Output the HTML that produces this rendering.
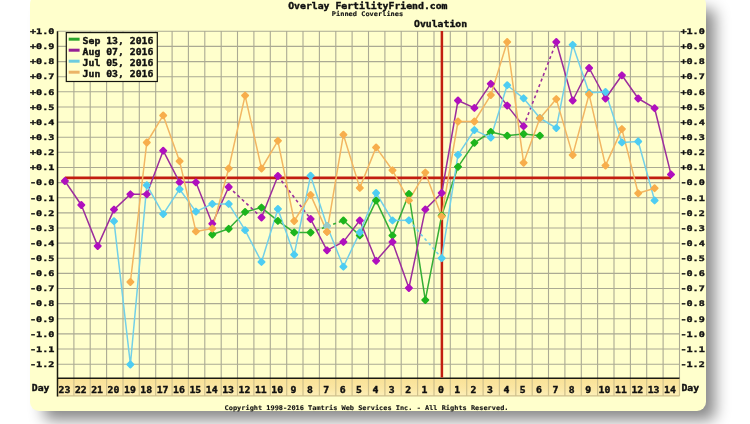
<!DOCTYPE html><html><head><meta charset="utf-8"><style>
html,body{margin:0;padding:0;background:#fff;width:750px;height:424px;overflow:hidden;}
#panel{position:absolute;left:30px;top:-5px;width:676px;height:416px;background:#FFFFCC;border-radius:9px;box-shadow:11.7px 11.2px 15px -3.2px #888;}
svg{position:absolute;left:0;top:0;}
text{font-family:"DejaVu Sans Mono","Liberation Mono",monospace;font-weight:bold;fill:#111;}
</style></head><body><div id="panel"></div>
<svg width="750" height="424" viewBox="0 0 750 424">
<defs><linearGradient id="dg" x1="0" y1="0" x2="0" y2="1"><stop offset="0" stop-color="#F9E196"/><stop offset="0.6" stop-color="#FBE7A4"/><stop offset="1" stop-color="#FDEFB8"/></linearGradient></defs>
<rect x="57.5" y="378.3" width="16.4" height="17.5" fill="url(#dg)"/>
<rect x="73.9" y="378.3" width="16.4" height="17.5" fill="url(#dg)"/>
<rect x="90.2" y="378.3" width="16.4" height="17.5" fill="url(#dg)"/>
<rect x="106.6" y="378.3" width="16.4" height="17.5" fill="url(#dg)"/>
<rect x="123" y="378.3" width="16.4" height="17.5" fill="url(#dg)"/>
<rect x="139.3" y="378.3" width="16.4" height="17.5" fill="url(#dg)"/>
<rect x="155.7" y="378.3" width="16.4" height="17.5" fill="url(#dg)"/>
<rect x="172.1" y="378.3" width="16.4" height="17.5" fill="url(#dg)"/>
<rect x="188.4" y="378.3" width="16.4" height="17.5" fill="url(#dg)"/>
<rect x="204.8" y="378.3" width="16.4" height="17.5" fill="url(#dg)"/>
<rect x="221.2" y="378.3" width="16.4" height="17.5" fill="url(#dg)"/>
<rect x="237.5" y="378.3" width="16.4" height="17.5" fill="url(#dg)"/>
<rect x="253.9" y="378.3" width="16.4" height="17.5" fill="url(#dg)"/>
<rect x="270.3" y="378.3" width="16.4" height="17.5" fill="url(#dg)"/>
<rect x="286.7" y="378.3" width="16.4" height="17.5" fill="url(#dg)"/>
<rect x="303" y="378.3" width="16.4" height="17.5" fill="url(#dg)"/>
<rect x="319.4" y="378.3" width="16.4" height="17.5" fill="url(#dg)"/>
<rect x="335.8" y="378.3" width="16.4" height="17.5" fill="url(#dg)"/>
<rect x="352.1" y="378.3" width="16.4" height="17.5" fill="url(#dg)"/>
<rect x="368.5" y="378.3" width="16.4" height="17.5" fill="url(#dg)"/>
<rect x="384.9" y="378.3" width="16.4" height="17.5" fill="url(#dg)"/>
<rect x="401.2" y="378.3" width="16.4" height="17.5" fill="url(#dg)"/>
<rect x="417.6" y="378.3" width="16.4" height="17.5" fill="url(#dg)"/>
<rect x="434" y="378.3" width="16.4" height="17.5" fill="url(#dg)"/>
<rect x="450.3" y="378.3" width="16.4" height="17.5" fill="url(#dg)"/>
<rect x="466.7" y="378.3" width="16.4" height="17.5" fill="url(#dg)"/>
<rect x="483.1" y="378.3" width="16.4" height="17.5" fill="url(#dg)"/>
<rect x="499.4" y="378.3" width="16.4" height="17.5" fill="url(#dg)"/>
<rect x="515.8" y="378.3" width="16.4" height="17.5" fill="url(#dg)"/>
<rect x="532.2" y="378.3" width="16.4" height="17.5" fill="url(#dg)"/>
<rect x="548.5" y="378.3" width="16.4" height="17.5" fill="url(#dg)"/>
<rect x="564.9" y="378.3" width="16.4" height="17.5" fill="url(#dg)"/>
<rect x="581.3" y="378.3" width="16.4" height="17.5" fill="url(#dg)"/>
<rect x="597.6" y="378.3" width="16.4" height="17.5" fill="url(#dg)"/>
<rect x="614" y="378.3" width="16.4" height="17.5" fill="url(#dg)"/>
<rect x="630.4" y="378.3" width="16.4" height="17.5" fill="url(#dg)"/>
<rect x="646.7" y="378.3" width="16.4" height="17.5" fill="url(#dg)"/>
<rect x="663.1" y="378.3" width="16.4" height="17.5" fill="url(#dg)"/>
<path d="M73.9 31.3V378.3M90.2 31.3V378.3M106.6 31.3V378.3M123 31.3V378.3M139.3 31.3V378.3M155.7 31.3V378.3M172.1 31.3V378.3M188.4 31.3V378.3M204.8 31.3V378.3M221.2 31.3V378.3M237.5 31.3V378.3M253.9 31.3V378.3M270.3 31.3V378.3M286.7 31.3V378.3M303 31.3V378.3M319.4 31.3V378.3M335.8 31.3V378.3M352.1 31.3V378.3M368.5 31.3V378.3M384.9 31.3V378.3M401.2 31.3V378.3M417.6 31.3V378.3M434 31.3V378.3M450.3 31.3V378.3M466.7 31.3V378.3M483.1 31.3V378.3M499.4 31.3V378.3M515.8 31.3V378.3M532.2 31.3V378.3M548.5 31.3V378.3M564.9 31.3V378.3M581.3 31.3V378.3M597.6 31.3V378.3M614 31.3V378.3M630.4 31.3V378.3M646.7 31.3V378.3M663.1 31.3V378.3M679.5 31.3V378.3M57.5 31.3H679.5M57.5 46.4H679.5M57.5 61.6H679.5M57.5 76.7H679.5M57.5 91.8H679.5M57.5 107H679.5M57.5 122.1H679.5M57.5 137.2H679.5M57.5 152.3H679.5M57.5 167.5H679.5M57.5 182.6H679.5M57.5 197.7H679.5M57.5 212.9H679.5M57.5 228H679.5M57.5 243.1H679.5M57.5 258.2H679.5M57.5 273.4H679.5M57.5 288.5H679.5M57.5 303.6H679.5M57.5 318.8H679.5M57.5 333.9H679.5M57.5 349H679.5M57.5 364.2H679.5" stroke="#ABAA93" stroke-width="1.1" fill="none"/>
<path d="M73.9 378.3V395.8M90.2 378.3V395.8M106.6 378.3V395.8M123 378.3V395.8M139.3 378.3V395.8M155.7 378.3V395.8M172.1 378.3V395.8M188.4 378.3V395.8M204.8 378.3V395.8M221.2 378.3V395.8M237.5 378.3V395.8M253.9 378.3V395.8M270.3 378.3V395.8M286.7 378.3V395.8M303 378.3V395.8M319.4 378.3V395.8M335.8 378.3V395.8M352.1 378.3V395.8M368.5 378.3V395.8M384.9 378.3V395.8M401.2 378.3V395.8M417.6 378.3V395.8M434 378.3V395.8M450.3 378.3V395.8M466.7 378.3V395.8M483.1 378.3V395.8M499.4 378.3V395.8M515.8 378.3V395.8M532.2 378.3V395.8M548.5 378.3V395.8M564.9 378.3V395.8M581.3 378.3V395.8M597.6 378.3V395.8M614 378.3V395.8M630.4 378.3V395.8M646.7 378.3V395.8M663.1 378.3V395.8M679.5 378.3V395.8M57.5 395.8H679.5" stroke="#CFC08C" stroke-width="1.2" fill="none"/>
<path d="M57.5 31.3V396.5 M57.5 378.3H679.5" stroke="#1A1A10" stroke-width="1.5" fill="none"/>
<path d="M441.9 31V377.5" stroke="#C21E10" stroke-width="2.5"/>
<path d="M64.9 177.9H671" stroke="#C21E10" stroke-width="2.6"/>
<path d="M212.3 234.5L228.7 228.8M228.7 228.8L245.1 211.9M245.1 211.9L261.5 207.6M261.5 207.6L277.9 220.9M277.9 220.9L294.2 232.4M294.2 232.4L310.6 232.5M343.4 220.5L359.8 235.4M359.8 235.4L376.1 200.6M376.1 200.6L392.5 235.6M392.5 235.6L408.9 194M408.9 194L425.3 300.1M425.3 300.1L441.7 215.5M441.7 215.5L458 166.8M458 166.8L474.4 142.8M474.4 142.8L490.8 132M490.8 132L507.2 135.7M507.2 135.7L523.6 134M523.6 134L539.9 135.7" stroke="#35AE35" stroke-width="1.5" fill="none" stroke-linejoin="round"/>
<path d="M310.6 232.5L343.4 220.5" stroke="#35AE35" stroke-width="1.6" fill="none" stroke-dasharray="3 3"/>
<path d="M64.9 181L81.3 205M81.3 205L97.7 246.1M97.7 246.1L114 209.6M114 209.6L130.4 194.3M130.4 194.3L146.8 194.3M146.8 194.3L163.2 150.7M163.2 150.7L179.6 182.3M179.6 182.3L195.9 182.3M195.9 182.3L212.3 223.7M212.3 223.7L228.7 187M261.5 217.5L277.9 176M310.6 219L327 250.3M327 250.3L343.4 241.9M343.4 241.9L359.8 220.4M359.8 220.4L376.1 260.8M376.1 260.8L392.5 241.9M392.5 241.9L408.9 288M408.9 288L425.3 209.4M425.3 209.4L441.7 193M441.7 193L458 100.5M458 100.5L474.4 107.9M474.4 107.9L490.8 83.8M490.8 83.8L507.2 105.6M507.2 105.6L523.6 126.2M556.3 42L572.7 100.5M572.7 100.5L589.1 68M589.1 68L605.5 98.5M605.5 98.5L621.9 75.3M621.9 75.3L638.2 98.5M638.2 98.5L654.6 108.2M654.6 108.2L671 174.4" stroke="#9C2E9C" stroke-width="1.5" fill="none" stroke-linejoin="round"/>
<path d="M228.7 187L261.5 217.5M277.9 176L310.6 219M523.6 126.2L556.3 42" stroke="#9C2E9C" stroke-width="1.6" fill="none" stroke-dasharray="3 3"/>
<path d="M114 221.2L130.4 364.5M130.4 364.5L146.8 185.2M146.8 185.2L163.2 214.1M163.2 214.1L179.6 189.2M179.6 189.2L195.9 211.6M195.9 211.6L212.3 203.9M212.3 203.9L228.7 203.9M228.7 203.9L245.1 230.2M245.1 230.2L261.5 261.9M261.5 261.9L277.9 209M277.9 209L294.2 254.7M294.2 254.7L310.6 175.7M310.6 175.7L327 226M327 226L343.4 266.7M343.4 266.7L359.8 232.5M359.8 232.5L376.1 193M376.1 193L392.5 220.4M392.5 220.4L408.9 220.3M441.7 258.2L458 154.8M458 154.8L474.4 130.1M474.4 130.1L490.8 137.6M490.8 137.6L507.2 85.2M507.2 85.2L523.6 98.3M523.6 98.3L539.9 118M539.9 118L556.3 128.1M556.3 128.1L572.7 44.8M572.7 44.8L589.1 92.7M589.1 92.7L605.5 92M605.5 92L621.9 142.4M621.9 142.4L638.2 141.5M638.2 141.5L654.6 200.4" stroke="#72D0E8" stroke-width="1.5" fill="none" stroke-linejoin="round"/>
<path d="M408.9 220.3L441.7 258.2" stroke="#72D0E8" stroke-width="1.6" fill="none" stroke-dasharray="3 3"/>
<path d="M130.4 282L146.8 142.5M146.8 142.5L163.2 115.4M163.2 115.4L179.6 161.2M179.6 161.2L195.9 231.4M195.9 231.4L212.3 228.5M212.3 228.5L228.7 168.5M228.7 168.5L245.1 95.6M245.1 95.6L261.5 168.5M261.5 168.5L277.9 140.8M277.9 140.8L294.2 221M294.2 221L310.6 194.9M310.6 194.9L327 231.8M327 231.8L343.4 134.7M343.4 134.7L359.8 187.9M359.8 187.9L376.1 147.4M376.1 147.4L392.5 170.3M392.5 170.3L408.9 200.4M408.9 200.4L425.3 172.6M425.3 172.6L441.7 216.4M441.7 216.4L458 121.5M458 121.5L474.4 121.5M474.4 121.5L490.8 95.1M490.8 95.1L507.2 42M507.2 42L523.6 162.8M523.6 162.8L539.9 118.2M539.9 118.2L556.3 99.1M556.3 99.1L572.7 155.1M572.7 155.1L589.1 94.3M589.1 94.3L605.5 165.6M605.5 165.6L621.9 129.1M621.9 129.1L638.2 193.3M638.2 193.3L654.6 188.2" stroke="#F2B662" stroke-width="1.5" fill="none" stroke-linejoin="round"/>
<path d="M212.3 231.6L215.2 234.5L212.3 237.4L209.4 234.5ZM228.7 225.9L231.6 228.8L228.7 231.7L225.8 228.8ZM245.1 209L248 211.9L245.1 214.8L242.2 211.9ZM261.5 204.7L264.4 207.6L261.5 210.5L258.6 207.6ZM277.9 218L280.8 220.9L277.9 223.8L275 220.9ZM294.2 229.5L297.1 232.4L294.2 235.3L291.3 232.4ZM310.6 229.6L313.5 232.5L310.6 235.4L307.7 232.5ZM343.4 217.6L346.3 220.5L343.4 223.4L340.5 220.5ZM359.8 232.5L362.7 235.4L359.8 238.3L356.9 235.4ZM376.1 197.7L379 200.6L376.1 203.5L373.2 200.6ZM392.5 232.7L395.4 235.6L392.5 238.5L389.6 235.6ZM408.9 191.1L411.8 194L408.9 196.9L406 194ZM425.3 297.2L428.2 300.1L425.3 303L422.4 300.1ZM441.7 212.6L444.6 215.5L441.7 218.4L438.8 215.5ZM458 163.9L460.9 166.8L458 169.7L455.1 166.8ZM474.4 139.9L477.3 142.8L474.4 145.7L471.5 142.8ZM490.8 129.1L493.7 132L490.8 134.9L487.9 132ZM507.2 132.8L510.1 135.7L507.2 138.6L504.3 135.7ZM523.6 131.1L526.5 134L523.6 136.9L520.7 134ZM539.9 132.8L542.8 135.7L539.9 138.6L537 135.7Z" fill="#1DB51D" stroke="#1DB51D" stroke-width="2.1" stroke-linejoin="round"/>
<path d="M64.9 178.1L67.8 181L64.9 183.9L62 181ZM81.3 202.1L84.2 205L81.3 207.9L78.4 205ZM97.7 243.2L100.6 246.1L97.7 249L94.8 246.1ZM114 206.7L116.9 209.6L114 212.5L111.1 209.6ZM130.4 191.4L133.3 194.3L130.4 197.2L127.5 194.3ZM146.8 191.4L149.7 194.3L146.8 197.2L143.9 194.3ZM163.2 147.8L166.1 150.7L163.2 153.6L160.3 150.7ZM179.6 179.4L182.5 182.3L179.6 185.2L176.7 182.3ZM195.9 179.4L198.8 182.3L195.9 185.2L193 182.3ZM212.3 220.8L215.2 223.7L212.3 226.6L209.4 223.7ZM228.7 184.1L231.6 187L228.7 189.9L225.8 187ZM261.5 214.6L264.4 217.5L261.5 220.4L258.6 217.5ZM277.9 173.1L280.8 176L277.9 178.9L275 176ZM310.6 216.1L313.5 219L310.6 221.9L307.7 219ZM327 247.4L329.9 250.3L327 253.2L324.1 250.3ZM343.4 239L346.3 241.9L343.4 244.8L340.5 241.9ZM359.8 217.5L362.7 220.4L359.8 223.3L356.9 220.4ZM376.1 257.9L379 260.8L376.1 263.7L373.2 260.8ZM392.5 239L395.4 241.9L392.5 244.8L389.6 241.9ZM408.9 285.1L411.8 288L408.9 290.9L406 288ZM425.3 206.5L428.2 209.4L425.3 212.3L422.4 209.4ZM441.7 190.1L444.6 193L441.7 195.9L438.8 193ZM458 97.6L460.9 100.5L458 103.4L455.1 100.5ZM474.4 105L477.3 107.9L474.4 110.8L471.5 107.9ZM490.8 80.9L493.7 83.8L490.8 86.7L487.9 83.8ZM507.2 102.7L510.1 105.6L507.2 108.5L504.3 105.6ZM523.6 123.3L526.5 126.2L523.6 129.1L520.7 126.2ZM556.3 39.1L559.2 42L556.3 44.9L553.4 42ZM572.7 97.6L575.6 100.5L572.7 103.4L569.8 100.5ZM589.1 65.1L592 68L589.1 70.9L586.2 68ZM605.5 95.6L608.4 98.5L605.5 101.4L602.6 98.5ZM621.9 72.4L624.8 75.3L621.9 78.2L619 75.3ZM638.2 95.6L641.1 98.5L638.2 101.4L635.3 98.5ZM654.6 105.3L657.5 108.2L654.6 111.1L651.7 108.2ZM671 171.5L673.9 174.4L671 177.3L668.1 174.4Z" fill="#B010BE" stroke="#B010BE" stroke-width="2.1" stroke-linejoin="round"/>
<path d="M114 218.3L116.9 221.2L114 224.1L111.1 221.2ZM130.4 361.6L133.3 364.5L130.4 367.4L127.5 364.5ZM146.8 182.3L149.7 185.2L146.8 188.1L143.9 185.2ZM163.2 211.2L166.1 214.1L163.2 217L160.3 214.1ZM179.6 186.3L182.5 189.2L179.6 192.1L176.7 189.2ZM195.9 208.7L198.8 211.6L195.9 214.5L193 211.6ZM212.3 201L215.2 203.9L212.3 206.8L209.4 203.9ZM228.7 201L231.6 203.9L228.7 206.8L225.8 203.9ZM245.1 227.3L248 230.2L245.1 233.1L242.2 230.2ZM261.5 259L264.4 261.9L261.5 264.8L258.6 261.9ZM277.9 206.1L280.8 209L277.9 211.9L275 209ZM294.2 251.8L297.1 254.7L294.2 257.6L291.3 254.7ZM310.6 172.8L313.5 175.7L310.6 178.6L307.7 175.7ZM327 223.1L329.9 226L327 228.9L324.1 226ZM343.4 263.8L346.3 266.7L343.4 269.6L340.5 266.7ZM359.8 229.6L362.7 232.5L359.8 235.4L356.9 232.5ZM376.1 190.1L379 193L376.1 195.9L373.2 193ZM392.5 217.5L395.4 220.4L392.5 223.3L389.6 220.4ZM408.9 217.4L411.8 220.3L408.9 223.2L406 220.3ZM441.7 255.3L444.6 258.2L441.7 261.1L438.8 258.2ZM458 151.9L460.9 154.8L458 157.7L455.1 154.8ZM474.4 127.2L477.3 130.1L474.4 133L471.5 130.1ZM490.8 134.7L493.7 137.6L490.8 140.5L487.9 137.6ZM507.2 82.3L510.1 85.2L507.2 88.1L504.3 85.2ZM523.6 95.4L526.5 98.3L523.6 101.2L520.7 98.3ZM539.9 115.1L542.8 118L539.9 120.9L537 118ZM556.3 125.2L559.2 128.1L556.3 131L553.4 128.1ZM572.7 41.9L575.6 44.8L572.7 47.7L569.8 44.8ZM589.1 89.8L592 92.7L589.1 95.6L586.2 92.7ZM605.5 89.1L608.4 92L605.5 94.9L602.6 92ZM621.9 139.5L624.8 142.4L621.9 145.3L619 142.4ZM638.2 138.6L641.1 141.5L638.2 144.4L635.3 141.5ZM654.6 197.5L657.5 200.4L654.6 203.3L651.7 200.4Z" fill="#4ECDF2" stroke="#4ECDF2" stroke-width="2.1" stroke-linejoin="round"/>
<path d="M130.4 279.1L133.3 282L130.4 284.9L127.5 282ZM146.8 139.6L149.7 142.5L146.8 145.4L143.9 142.5ZM163.2 112.5L166.1 115.4L163.2 118.3L160.3 115.4ZM179.6 158.3L182.5 161.2L179.6 164.1L176.7 161.2ZM195.9 228.5L198.8 231.4L195.9 234.3L193 231.4ZM212.3 225.6L215.2 228.5L212.3 231.4L209.4 228.5ZM228.7 165.6L231.6 168.5L228.7 171.4L225.8 168.5ZM245.1 92.7L248 95.6L245.1 98.5L242.2 95.6ZM261.5 165.6L264.4 168.5L261.5 171.4L258.6 168.5ZM277.9 137.9L280.8 140.8L277.9 143.7L275 140.8ZM294.2 218.1L297.1 221L294.2 223.9L291.3 221ZM310.6 192L313.5 194.9L310.6 197.8L307.7 194.9ZM327 228.9L329.9 231.8L327 234.7L324.1 231.8ZM343.4 131.8L346.3 134.7L343.4 137.6L340.5 134.7ZM359.8 185L362.7 187.9L359.8 190.8L356.9 187.9ZM376.1 144.5L379 147.4L376.1 150.3L373.2 147.4ZM392.5 167.4L395.4 170.3L392.5 173.2L389.6 170.3ZM408.9 197.5L411.8 200.4L408.9 203.3L406 200.4ZM425.3 169.7L428.2 172.6L425.3 175.5L422.4 172.6ZM441.7 213.5L444.6 216.4L441.7 219.3L438.8 216.4ZM458 118.6L460.9 121.5L458 124.4L455.1 121.5ZM474.4 118.6L477.3 121.5L474.4 124.4L471.5 121.5ZM490.8 92.2L493.7 95.1L490.8 98L487.9 95.1ZM507.2 39.1L510.1 42L507.2 44.9L504.3 42ZM523.6 159.9L526.5 162.8L523.6 165.7L520.7 162.8ZM539.9 115.3L542.8 118.2L539.9 121.1L537 118.2ZM556.3 96.2L559.2 99.1L556.3 102L553.4 99.1ZM572.7 152.2L575.6 155.1L572.7 158L569.8 155.1ZM589.1 91.4L592 94.3L589.1 97.2L586.2 94.3ZM605.5 162.7L608.4 165.6L605.5 168.5L602.6 165.6ZM621.9 126.2L624.8 129.1L621.9 132L619 129.1ZM638.2 190.4L641.1 193.3L638.2 196.2L635.3 193.3ZM654.6 185.3L657.5 188.2L654.6 191.1L651.7 188.2Z" fill="#F7AE4C" stroke="#F7AE4C" stroke-width="2.1" stroke-linejoin="round"/>
<path d="M327 223.1L329.9 226L327 228.9L324.1 226Z" fill="#9CCBC6" stroke="#9CCBC6" stroke-width="2.1" stroke-linejoin="round"/>
<path d="M327 228.9L329.9 231.8L327 234.7L324.1 231.8Z" fill="#F7AE4C" stroke="#F7AE4C" stroke-width="2.1" stroke-linejoin="round"/>
<rect x="66.3" y="32.6" width="91" height="48.9" fill="#FFFFCC" stroke="#151510" stroke-width="1.2"/>
<path d="M68.7 39.2H79.6" stroke="#2BA52B" stroke-width="3"/>
<text x="82.6" y="43.6" font-size="8.2" textLength="70.8" lengthAdjust="spacingAndGlyphs" stroke="#111" stroke-width="0.35">Sep 13, 2016</text>
<path d="M68.7 50.2H79.6" stroke="#951E95" stroke-width="3"/>
<text x="82.6" y="54.6" font-size="8.2" textLength="70.8" lengthAdjust="spacingAndGlyphs" stroke="#111" stroke-width="0.35">Aug 07, 2016</text>
<path d="M68.7 61.2H79.6" stroke="#6CCCDF" stroke-width="3"/>
<text x="82.6" y="65.6" font-size="8.2" textLength="70.8" lengthAdjust="spacingAndGlyphs" stroke="#111" stroke-width="0.35">Jul 05, 2016</text>
<path d="M68.7 72.2H79.6" stroke="#EBB466" stroke-width="3"/>
<text x="82.6" y="76.6" font-size="8.2" textLength="70.8" lengthAdjust="spacingAndGlyphs" stroke="#111" stroke-width="0.35">Jun 03, 2016</text>
<text x="30" y="34" font-size="7.7" textLength="24.4" lengthAdjust="spacingAndGlyphs" stroke="#111" stroke-width="0.35">+1.0</text>
<text x="680.4" y="34" font-size="7.7" textLength="24.4" lengthAdjust="spacingAndGlyphs" stroke="#111" stroke-width="0.35">+1.0</text>
<text x="30" y="49.2" font-size="7.7" textLength="24.4" lengthAdjust="spacingAndGlyphs" stroke="#111" stroke-width="0.35">+0.9</text>
<text x="680.4" y="49.2" font-size="7.7" textLength="24.4" lengthAdjust="spacingAndGlyphs" stroke="#111" stroke-width="0.35">+0.9</text>
<text x="30" y="64.3" font-size="7.7" textLength="24.4" lengthAdjust="spacingAndGlyphs" stroke="#111" stroke-width="0.35">+0.8</text>
<text x="680.4" y="64.3" font-size="7.7" textLength="24.4" lengthAdjust="spacingAndGlyphs" stroke="#111" stroke-width="0.35">+0.8</text>
<text x="30" y="79.4" font-size="7.7" textLength="24.4" lengthAdjust="spacingAndGlyphs" stroke="#111" stroke-width="0.35">+0.7</text>
<text x="680.4" y="79.4" font-size="7.7" textLength="24.4" lengthAdjust="spacingAndGlyphs" stroke="#111" stroke-width="0.35">+0.7</text>
<text x="30" y="94.6" font-size="7.7" textLength="24.4" lengthAdjust="spacingAndGlyphs" stroke="#111" stroke-width="0.35">+0.6</text>
<text x="680.4" y="94.6" font-size="7.7" textLength="24.4" lengthAdjust="spacingAndGlyphs" stroke="#111" stroke-width="0.35">+0.6</text>
<text x="30" y="109.7" font-size="7.7" textLength="24.4" lengthAdjust="spacingAndGlyphs" stroke="#111" stroke-width="0.35">+0.5</text>
<text x="680.4" y="109.7" font-size="7.7" textLength="24.4" lengthAdjust="spacingAndGlyphs" stroke="#111" stroke-width="0.35">+0.5</text>
<text x="30" y="124.8" font-size="7.7" textLength="24.4" lengthAdjust="spacingAndGlyphs" stroke="#111" stroke-width="0.35">+0.4</text>
<text x="680.4" y="124.8" font-size="7.7" textLength="24.4" lengthAdjust="spacingAndGlyphs" stroke="#111" stroke-width="0.35">+0.4</text>
<text x="30" y="140" font-size="7.7" textLength="24.4" lengthAdjust="spacingAndGlyphs" stroke="#111" stroke-width="0.35">+0.3</text>
<text x="680.4" y="140" font-size="7.7" textLength="24.4" lengthAdjust="spacingAndGlyphs" stroke="#111" stroke-width="0.35">+0.3</text>
<text x="30" y="155.1" font-size="7.7" textLength="24.4" lengthAdjust="spacingAndGlyphs" stroke="#111" stroke-width="0.35">+0.2</text>
<text x="680.4" y="155.1" font-size="7.7" textLength="24.4" lengthAdjust="spacingAndGlyphs" stroke="#111" stroke-width="0.35">+0.2</text>
<text x="30" y="170.2" font-size="7.7" textLength="24.4" lengthAdjust="spacingAndGlyphs" stroke="#111" stroke-width="0.35">+0.1</text>
<text x="680.4" y="170.2" font-size="7.7" textLength="24.4" lengthAdjust="spacingAndGlyphs" stroke="#111" stroke-width="0.35">+0.1</text>
<text x="30" y="185.4" font-size="7.7" textLength="24.4" lengthAdjust="spacingAndGlyphs" stroke="#111" stroke-width="0.35">-0.0</text>
<text x="680.4" y="185.4" font-size="7.7" textLength="24.4" lengthAdjust="spacingAndGlyphs" stroke="#111" stroke-width="0.35">-0.0</text>
<text x="30" y="200.5" font-size="7.7" textLength="24.4" lengthAdjust="spacingAndGlyphs" stroke="#111" stroke-width="0.35">-0.1</text>
<text x="680.4" y="200.5" font-size="7.7" textLength="24.4" lengthAdjust="spacingAndGlyphs" stroke="#111" stroke-width="0.35">-0.1</text>
<text x="30" y="215.6" font-size="7.7" textLength="24.4" lengthAdjust="spacingAndGlyphs" stroke="#111" stroke-width="0.35">-0.2</text>
<text x="680.4" y="215.6" font-size="7.7" textLength="24.4" lengthAdjust="spacingAndGlyphs" stroke="#111" stroke-width="0.35">-0.2</text>
<text x="30" y="230.7" font-size="7.7" textLength="24.4" lengthAdjust="spacingAndGlyphs" stroke="#111" stroke-width="0.35">-0.3</text>
<text x="680.4" y="230.7" font-size="7.7" textLength="24.4" lengthAdjust="spacingAndGlyphs" stroke="#111" stroke-width="0.35">-0.3</text>
<text x="30" y="245.9" font-size="7.7" textLength="24.4" lengthAdjust="spacingAndGlyphs" stroke="#111" stroke-width="0.35">-0.4</text>
<text x="680.4" y="245.9" font-size="7.7" textLength="24.4" lengthAdjust="spacingAndGlyphs" stroke="#111" stroke-width="0.35">-0.4</text>
<text x="30" y="261" font-size="7.7" textLength="24.4" lengthAdjust="spacingAndGlyphs" stroke="#111" stroke-width="0.35">-0.5</text>
<text x="680.4" y="261" font-size="7.7" textLength="24.4" lengthAdjust="spacingAndGlyphs" stroke="#111" stroke-width="0.35">-0.5</text>
<text x="30" y="276.1" font-size="7.7" textLength="24.4" lengthAdjust="spacingAndGlyphs" stroke="#111" stroke-width="0.35">-0.6</text>
<text x="680.4" y="276.1" font-size="7.7" textLength="24.4" lengthAdjust="spacingAndGlyphs" stroke="#111" stroke-width="0.35">-0.6</text>
<text x="30" y="291.3" font-size="7.7" textLength="24.4" lengthAdjust="spacingAndGlyphs" stroke="#111" stroke-width="0.35">-0.7</text>
<text x="680.4" y="291.3" font-size="7.7" textLength="24.4" lengthAdjust="spacingAndGlyphs" stroke="#111" stroke-width="0.35">-0.7</text>
<text x="30" y="306.4" font-size="7.7" textLength="24.4" lengthAdjust="spacingAndGlyphs" stroke="#111" stroke-width="0.35">-0.8</text>
<text x="680.4" y="306.4" font-size="7.7" textLength="24.4" lengthAdjust="spacingAndGlyphs" stroke="#111" stroke-width="0.35">-0.8</text>
<text x="30" y="321.5" font-size="7.7" textLength="24.4" lengthAdjust="spacingAndGlyphs" stroke="#111" stroke-width="0.35">-0.9</text>
<text x="680.4" y="321.5" font-size="7.7" textLength="24.4" lengthAdjust="spacingAndGlyphs" stroke="#111" stroke-width="0.35">-0.9</text>
<text x="30" y="336.7" font-size="7.7" textLength="24.4" lengthAdjust="spacingAndGlyphs" stroke="#111" stroke-width="0.35">-1.0</text>
<text x="680.4" y="336.7" font-size="7.7" textLength="24.4" lengthAdjust="spacingAndGlyphs" stroke="#111" stroke-width="0.35">-1.0</text>
<text x="30" y="351.8" font-size="7.7" textLength="24.4" lengthAdjust="spacingAndGlyphs" stroke="#111" stroke-width="0.35">-1.1</text>
<text x="680.4" y="351.8" font-size="7.7" textLength="24.4" lengthAdjust="spacingAndGlyphs" stroke="#111" stroke-width="0.35">-1.1</text>
<text x="30" y="366.9" font-size="7.7" textLength="24.4" lengthAdjust="spacingAndGlyphs" stroke="#111" stroke-width="0.35">-1.2</text>
<text x="680.4" y="366.9" font-size="7.7" textLength="24.4" lengthAdjust="spacingAndGlyphs" stroke="#111" stroke-width="0.35">-1.2</text>
<text x="58.5" y="393" font-size="8.1" textLength="11.8" lengthAdjust="spacingAndGlyphs" stroke="#111" stroke-width="0.35">23</text>
<text x="74.9" y="393" font-size="8.1" textLength="11.8" lengthAdjust="spacingAndGlyphs" stroke="#111" stroke-width="0.35">22</text>
<text x="91.2" y="393" font-size="8.1" textLength="11.8" lengthAdjust="spacingAndGlyphs" stroke="#111" stroke-width="0.35">21</text>
<text x="107.6" y="393" font-size="8.1" textLength="11.8" lengthAdjust="spacingAndGlyphs" stroke="#111" stroke-width="0.35">20</text>
<text x="124" y="393" font-size="8.1" textLength="11.8" lengthAdjust="spacingAndGlyphs" stroke="#111" stroke-width="0.35">19</text>
<text x="140.3" y="393" font-size="8.1" textLength="11.8" lengthAdjust="spacingAndGlyphs" stroke="#111" stroke-width="0.35">18</text>
<text x="156.7" y="393" font-size="8.1" textLength="11.8" lengthAdjust="spacingAndGlyphs" stroke="#111" stroke-width="0.35">17</text>
<text x="173.1" y="393" font-size="8.1" textLength="11.8" lengthAdjust="spacingAndGlyphs" stroke="#111" stroke-width="0.35">16</text>
<text x="189.4" y="393" font-size="8.1" textLength="11.8" lengthAdjust="spacingAndGlyphs" stroke="#111" stroke-width="0.35">15</text>
<text x="205.8" y="393" font-size="8.1" textLength="11.8" lengthAdjust="spacingAndGlyphs" stroke="#111" stroke-width="0.35">14</text>
<text x="222.2" y="393" font-size="8.1" textLength="11.8" lengthAdjust="spacingAndGlyphs" stroke="#111" stroke-width="0.35">13</text>
<text x="238.5" y="393" font-size="8.1" textLength="11.8" lengthAdjust="spacingAndGlyphs" stroke="#111" stroke-width="0.35">12</text>
<text x="254.9" y="393" font-size="8.1" textLength="11.8" lengthAdjust="spacingAndGlyphs" stroke="#111" stroke-width="0.35">11</text>
<text x="271.3" y="393" font-size="8.1" textLength="11.8" lengthAdjust="spacingAndGlyphs" stroke="#111" stroke-width="0.35">10</text>
<text x="290.6" y="393" font-size="8.1" textLength="5.9" lengthAdjust="spacingAndGlyphs" stroke="#111" stroke-width="0.35">9</text>
<text x="307" y="393" font-size="8.1" textLength="5.9" lengthAdjust="spacingAndGlyphs" stroke="#111" stroke-width="0.35">8</text>
<text x="323.3" y="393" font-size="8.1" textLength="5.9" lengthAdjust="spacingAndGlyphs" stroke="#111" stroke-width="0.35">7</text>
<text x="339.7" y="393" font-size="8.1" textLength="5.9" lengthAdjust="spacingAndGlyphs" stroke="#111" stroke-width="0.35">6</text>
<text x="356.1" y="393" font-size="8.1" textLength="5.9" lengthAdjust="spacingAndGlyphs" stroke="#111" stroke-width="0.35">5</text>
<text x="372.4" y="393" font-size="8.1" textLength="5.9" lengthAdjust="spacingAndGlyphs" stroke="#111" stroke-width="0.35">4</text>
<text x="388.8" y="393" font-size="8.1" textLength="5.9" lengthAdjust="spacingAndGlyphs" stroke="#111" stroke-width="0.35">3</text>
<text x="405.2" y="393" font-size="8.1" textLength="5.9" lengthAdjust="spacingAndGlyphs" stroke="#111" stroke-width="0.35">2</text>
<text x="421.5" y="393" font-size="8.1" textLength="5.9" lengthAdjust="spacingAndGlyphs" stroke="#111" stroke-width="0.35">1</text>
<text x="437.9" y="393" font-size="8.1" textLength="5.9" lengthAdjust="spacingAndGlyphs" stroke="#111" stroke-width="0.35">0</text>
<text x="454.3" y="393" font-size="8.1" textLength="5.9" lengthAdjust="spacingAndGlyphs" stroke="#111" stroke-width="0.35">1</text>
<text x="470.6" y="393" font-size="8.1" textLength="5.9" lengthAdjust="spacingAndGlyphs" stroke="#111" stroke-width="0.35">2</text>
<text x="487" y="393" font-size="8.1" textLength="5.9" lengthAdjust="spacingAndGlyphs" stroke="#111" stroke-width="0.35">3</text>
<text x="503.4" y="393" font-size="8.1" textLength="5.9" lengthAdjust="spacingAndGlyphs" stroke="#111" stroke-width="0.35">4</text>
<text x="519.7" y="393" font-size="8.1" textLength="5.9" lengthAdjust="spacingAndGlyphs" stroke="#111" stroke-width="0.35">5</text>
<text x="536.1" y="393" font-size="8.1" textLength="5.9" lengthAdjust="spacingAndGlyphs" stroke="#111" stroke-width="0.35">6</text>
<text x="552.5" y="393" font-size="8.1" textLength="5.9" lengthAdjust="spacingAndGlyphs" stroke="#111" stroke-width="0.35">7</text>
<text x="568.8" y="393" font-size="8.1" textLength="5.9" lengthAdjust="spacingAndGlyphs" stroke="#111" stroke-width="0.35">8</text>
<text x="585.2" y="393" font-size="8.1" textLength="5.9" lengthAdjust="spacingAndGlyphs" stroke="#111" stroke-width="0.35">9</text>
<text x="598.6" y="393" font-size="8.1" textLength="11.8" lengthAdjust="spacingAndGlyphs" stroke="#111" stroke-width="0.35">10</text>
<text x="615" y="393" font-size="8.1" textLength="11.8" lengthAdjust="spacingAndGlyphs" stroke="#111" stroke-width="0.35">11</text>
<text x="631.4" y="393" font-size="8.1" textLength="11.8" lengthAdjust="spacingAndGlyphs" stroke="#111" stroke-width="0.35">12</text>
<text x="647.7" y="393" font-size="8.1" textLength="11.8" lengthAdjust="spacingAndGlyphs" stroke="#111" stroke-width="0.35">13</text>
<text x="664.1" y="393" font-size="8.1" textLength="11.8" lengthAdjust="spacingAndGlyphs" stroke="#111" stroke-width="0.35">14</text>
<text x="31.8" y="390.7" font-size="8.8" textLength="17.7" lengthAdjust="spacingAndGlyphs" stroke="#111" stroke-width="0.35">Day</text>
<text x="681.4" y="390.7" font-size="8.8" textLength="17.7" lengthAdjust="spacingAndGlyphs" stroke="#111" stroke-width="0.35">Day</text>
<text x="288.2" y="8.9" font-size="8.6" textLength="159.3" lengthAdjust="spacingAndGlyphs" stroke="#111" stroke-width="0.35">Overlay FertilityFriend.com</text>
<text x="331.8" y="15.9" font-size="6.4" textLength="71.4" lengthAdjust="spacingAndGlyphs" stroke="#111" stroke-width="0.12" font-weight="normal">Pinned Coverlines</text>
<text x="414" y="26.9" font-size="8.2" textLength="53.1" lengthAdjust="spacingAndGlyphs" stroke="#111" stroke-width="0.35">Ovulation</text>
<text x="224.6" y="409.8" font-size="6.4" textLength="283.9" lengthAdjust="spacingAndGlyphs" stroke="#111" stroke-width="0.12" font-weight="normal">Copyright 1998-2016 Tamtris Web Services Inc. - All Rights Reserved.</text>
</svg></body></html>
